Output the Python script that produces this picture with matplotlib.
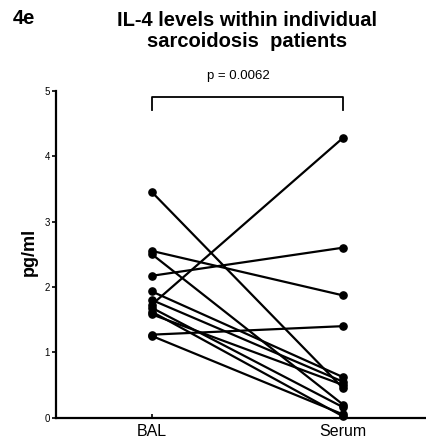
import matplotlib
matplotlib.use("Agg")
import matplotlib.pyplot as plt

plt.rcParams['font.family'] = ['Liberation Sans', 'DejaVu Sans']

# Donnees (pg/ml), un patient par ligne
groupes = ["BAL", "Serum"]
bal = [3.45, 2.55, 2.50, 2.17, 1.93, 1.80, 1.73, 1.68, 1.62, 1.58, 1.27, 1.25]
serum = [0.45, 1.87, 0.20, 2.60, 0.62, 0.55, 4.28, 0.16, 0.02, 0.50, 1.40, 0.05]
p_valeur = "p = 0.0062"
y_ticks = [0, 1, 2, 3, 4, 5]

fig = plt.figure(figsize=(4.27, 4.44), dpi=100)
ax = fig.add_axes([0.1305, 0.0592, 0.87, 0.7365])

for b, s in zip(bal, serum):
    ax.plot([0, 1], [b, s], color='black', linewidth=1.6,
            marker='o', markersize=5.2, solid_capstyle='round', clip_on=False)

ax.set_xlim(-0.503, 1.44)
ax.set_ylim(0, 5)
ax.set_yticks(y_ticks)
ax.set_yticklabels([str(t) for t in y_ticks], fontsize=7)
ax.set_xticks([0, 1])
ax.set_xticklabels(groupes, fontsize=11.5)
ax.tick_params(axis='y', direction='out', length=3, width=1.2, pad=1)
ax.tick_params(axis='x', direction='in', length=3, width=1.2, pad=4.5)

for side in ['top', 'right']:
    ax.spines[side].set_visible(False)
for side in ['left', 'bottom']:
    ax.spines[side].set_linewidth(1.6)

fig.text(29 / 427, 1 - 252 / 444, "pg/ml", rotation=90, ha='center', va='center',
         fontsize=13, fontweight='bold')

# Crochet de significativite
ax.plot([0, 0, 1, 1], [4.71, 4.91, 4.91, 4.71], color='black', linewidth=1.3)
fig.text(238 / 427, 1 - 76 / 444, p_valeur, ha='center', va='center', fontsize=9.5)

# Titres
fig.text(247 / 427, 1 - 31 / 444, "IL-4 levels within individual\nsarcoidosis  patients",
         ha='center', va='center', fontsize=14.5, fontweight='bold', linespacing=1.15)
fig.text(13 / 427, 1 - 19 / 444, "4e", ha='left', va='center', fontsize=14.5, fontweight='bold')

fig.savefig("out.png", dpi=100)
